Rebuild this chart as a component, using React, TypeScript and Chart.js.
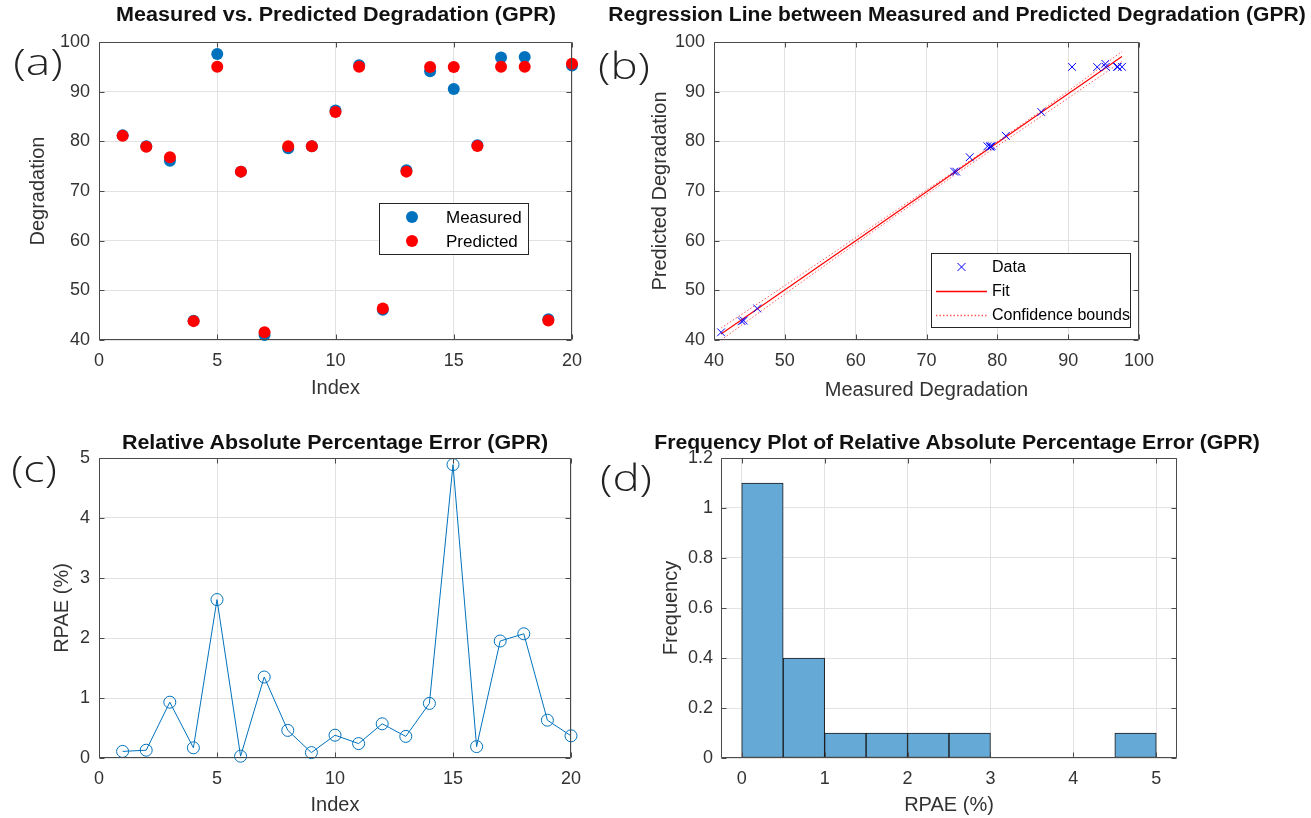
import React, { useEffect, useLayoutEffect, useRef } from "react";
import { Chart, registerables } from "chart.js";

Chart.register(...registerables);

// ---------------- data ----------------
const sampleIndex = [1, 2, 3, 4, 5, 6, 7, 8, 9, 10, 11, 12, 13, 14, 15, 16, 17, 18, 19, 20];
const measuredDegradation = [81.2, 79.0, 76.1, 43.9, 97.6, 73.9, 41.0, 78.6, 79.0, 86.2, 95.3, 46.1, 74.2, 94.1, 90.55, 79.2, 96.9, 97.0, 44.2, 95.25];
const predictedDegradation = [81.1, 78.9, 76.8, 43.8, 95.0, 73.9, 41.55, 79.0, 79.0, 85.9, 95.0, 46.35, 73.9, 94.95, 94.98, 79.05, 95.0, 95.0, 43.92, 95.6];
const rpaePercent = [0.11, 0.13, 0.93, 0.17, 2.64, 0.03, 1.35, 0.46, 0.09, 0.38, 0.24, 0.57, 0.36, 0.91, 4.89, 0.19, 1.95, 2.07, 0.63, 0.37];

const fitX = [41.0, 97.6];
const fitY = [41.2, 97.1];
const boundX = [41, 50, 63, 77, 90, 97.6];
const boundUpper = [42.4, 50.95, 63.5, 76.95, 90.1, 98.1];
const boundLower = [40.0, 49.25, 62.4, 76.15, 88.7, 96.1];

const histBinStart = [0, 0.5, 1, 1.5, 2, 2.5, 3, 3.5, 4, 4.5];
const histBinWidth = 0.5;
const histFrequency = [1.1, 0.4, 0.1, 0.1, 0.1, 0.1, 0, 0, 0, 0.1];

const indexTicks = [0, 5, 10, 15, 20];
const degradationTicks = [40, 50, 60, 70, 80, 90, 100];
const rpaeTicks = [0, 1, 2, 3, 4, 5];
const freqTicks = [0, 0.2, 0.4, 0.6, 0.8, 1, 1.2];

// ---------------- style ----------------
const FONT = "'Liberation Sans', Arial, Helvetica, sans-serif";
const GRID = "#e2e2e2";
const AXIS = "#4a4a4a";
const TEXT = "#333333";
const BLUE = "#0072BD";
const RED = "#FF0000";
const BOUND_RED = "#ff5a5a";

Chart.defaults.font.family = FONT;
Chart.defaults.color = TEXT;

type AxisParams = {
  min: number;
  max: number;
  ticks: number[];
  title: string;
  horizontal: boolean;
  size: number;
  tickPad: number;
  titlePad: number;
};

function linAxis(p: AxisParams) {
  return {
    type: "linear" as const,
    min: p.min,
    max: p.max,
    offset: false,
    afterBuildTicks: (s: any) => {
      s.ticks = p.ticks.map((v) => ({ value: v }));
    },
    afterFit: (s: any) => {
      if (p.horizontal) s.height = p.size;
      else s.width = p.size;
    },
    grid: { color: GRID, lineWidth: 1, drawTicks: false, offset: false },
    border: { display: false },
    ticks: {
      padding: p.tickPad,
      color: TEXT,
      font: { size: 18 },
      autoSkip: false,
      maxRotation: 0,
      minRotation: 0,
      callback: (v: any) => String(Number(Number(v).toFixed(2))),
    },
    title: {
      display: true,
      text: p.title,
      color: TEXT,
      font: { size: 20 },
      padding: p.horizontal ? { top: 0, bottom: p.titlePad } : { top: p.titlePad, bottom: 0 },
    },
  };
}

const axesBox = {
  id: "axesBox",
  afterDraw(chart: any) {
    const { ctx, chartArea: a, scales } = chart;
    ctx.save();
    ctx.strokeStyle = AXIS;
    ctx.lineWidth = 1;
    const L = Math.round(a.left) + 0.5;
    const R = Math.round(a.right) - 0.5;
    const T = Math.round(a.top) + 0.5;
    const B = Math.round(a.bottom) - 0.5;
    ctx.beginPath();
    ctx.rect(L, T, R - L, B - T);
    const tl = 5;
    scales.x.ticks.forEach((t: any) => {
      const p = Math.round(scales.x.getPixelForValue(t.value)) + 0.5;
      ctx.moveTo(p, B);
      ctx.lineTo(p, B - tl);
      ctx.moveTo(p, T);
      ctx.lineTo(p, T + tl);
    });
    scales.y.ticks.forEach((t: any) => {
      const p = Math.round(scales.y.getPixelForValue(t.value)) + 0.5;
      ctx.moveTo(L, p);
      ctx.lineTo(L + tl, p);
      ctx.moveTo(R, p);
      ctx.lineTo(R - tl, p);
    });
    ctx.stroke();
    ctx.restore();
  },
};

type LegendEntry = { kind: "dot" | "cross" | "line" | "dotted"; color: string; label: string };

function boxLegend(
  id: string,
  box: [number, number, number, number],
  rowsY: number[],
  symX: [number, number],
  textX: number,
  fontSize: number,
  entries: LegendEntry[]
) {
  return {
    id,
    afterDraw(chart: any) {
      const ctx = chart.ctx as CanvasRenderingContext2D;
      ctx.save();
      const [x1, y1, x2, y2] = box;
      ctx.fillStyle = "#ffffff";
      ctx.fillRect(x1, y1, x2 - x1, y2 - y1);
      ctx.strokeStyle = "#262626";
      ctx.lineWidth = 1;
      ctx.setLineDash([]);
      ctx.strokeRect(x1 + 0.5, y1 + 0.5, x2 - x1 - 1, y2 - y1 - 1);
      entries.forEach((e, i) => {
        const y = rowsY[i];
        const cx = (symX[0] + symX[1]) / 2;
        if (e.kind === "dot") {
          ctx.fillStyle = e.color;
          ctx.beginPath();
          ctx.arc(cx, y, 6, 0, Math.PI * 2);
          ctx.fill();
        } else if (e.kind === "cross") {
          ctx.setLineDash([]);
          ctx.lineWidth = 1;
          ctx.beginPath();
          ctx.moveTo(cx - 4, y - 4);
          ctx.lineTo(cx + 4, y + 4);
          ctx.moveTo(cx + 4, y - 4);
          ctx.lineTo(cx - 4, y + 4);
          ctx.strokeStyle = e.color;
          ctx.stroke();
        } else {
          ctx.lineWidth = 1.3;
          ctx.setLineDash(e.kind === "dotted" ? [1.5, 2] : []);
          ctx.beginPath();
          ctx.moveTo(symX[0], y + 0.5);
          ctx.lineTo(symX[1], y + 0.5);
          ctx.strokeStyle = e.color;
          ctx.stroke();
          ctx.setLineDash([]);
        }
        ctx.fillStyle = "#000000";
        ctx.font = `${fontSize}px ${FONT}`;
        ctx.textBaseline = "middle";
        ctx.textAlign = "left";
        ctx.fillText(e.label, textX, y + 1);
      });
      ctx.restore();
    },
  };
}

const baseOptions = {
  responsive: false,
  animation: false as const,
  events: [] as any[],
  plugins: { legend: { display: false }, tooltip: { enabled: false }, title: { display: false } },
};

// ---------------- panel configs ----------------
function configA(): any {
  return {
    type: "scatter",
    data: {
      datasets: [
        {
          label: "Predicted",
          data: sampleIndex.map((x, i) => ({ x, y: predictedDegradation[i] })),
          backgroundColor: RED,
          borderWidth: 0,
          pointRadius: 6,
          clip: false,
        },
        {
          label: "Measured",
          data: sampleIndex.map((x, i) => ({ x, y: measuredDegradation[i] })),
          backgroundColor: BLUE,
          borderWidth: 0,
          pointRadius: 6,
          clip: false,
        },
      ],
    },
    options: {
      ...baseOptions,
      layout: { padding: { left: 0, top: 42, right: 28, bottom: 0 } },
      scales: {
        x: linAxis({ min: 0, max: 20, ticks: indexTicks, title: "Index", horizontal: true, size: 70, tickPad: 10, titlePad: 10 }),
        y: linAxis({ min: 40, max: 100, ticks: degradationTicks, title: "Degradation", horizontal: false, size: 99, tickPad: 9, titlePad: 26 }),
      },
    },
    plugins: [
      axesBox,
      boxLegend("legA", [379, 203, 529, 255], [217, 241], [412, 412], 446, 17, [
        { kind: "dot", color: BLUE, label: "Measured" },
        { kind: "dot", color: RED, label: "Predicted" },
      ]),
    ],
  };
}

function configB(): any {
  return {
    type: "scatter",
    data: {
      datasets: [
        {
          label: "Data",
          data: measuredDegradation.map((x, i) => ({ x, y: predictedDegradation[i] })),
          pointStyle: "crossRot",
          pointRadius: 5.5,
          borderColor: "#0000FF",
          backgroundColor: "#0000FF",
          borderWidth: 1,
          clip: false,
        },
        {
          label: "Fit",
          data: fitX.map((x, i) => ({ x, y: fitY[i] })),
          showLine: true,
          pointRadius: 0,
          borderColor: RED,
          borderWidth: 1.2,
          clip: false,
        },
        {
          label: "Upper bound",
          data: boundX.map((x, i) => ({ x, y: boundUpper[i] })),
          showLine: true,
          pointRadius: 0,
          borderColor: BOUND_RED,
          borderWidth: 1,
          borderDash: [1.5, 2],
          cubicInterpolationMode: "monotone",
          clip: false,
        },
        {
          label: "Lower bound",
          data: boundX.map((x, i) => ({ x, y: boundLower[i] })),
          showLine: true,
          pointRadius: 0,
          borderColor: BOUND_RED,
          borderWidth: 1,
          borderDash: [1.5, 2],
          cubicInterpolationMode: "monotone",
          clip: false,
        },
      ],
    },
    options: {
      ...baseOptions,
      layout: { padding: { left: 0, top: 42, right: 172, bottom: 0 } },
      scales: {
        x: linAxis({ min: 40, max: 100, ticks: degradationTicks, title: "Measured Degradation", horizontal: true, size: 70, tickPad: 10, titlePad: 8 }),
        y: linAxis({ min: 40, max: 100, ticks: degradationTicks, title: "Predicted Degradation", horizontal: false, size: 114, tickPad: 9, titlePad: 48 }),
      },
    },
    plugins: [
      axesBox,
      boxLegend("legB", [331, 253, 531, 328], [267, 291, 315], [336, 387], 392, 16, [
        { kind: "cross", color: "#0000FF", label: "Data" },
        { kind: "line", color: RED, label: "Fit" },
        { kind: "dotted", color: BOUND_RED, label: "Confidence bounds" },
      ]),
    ],
  };
}

function configC(): any {
  return {
    type: "scatter",
    data: {
      datasets: [
        {
          label: "RPAE",
          data: sampleIndex.map((x, i) => ({ x, y: rpaePercent[i] })),
          showLine: true,
          borderColor: BLUE,
          borderWidth: 1,
          pointRadius: 6,
          pointBorderColor: BLUE,
          pointBackgroundColor: "rgba(0,0,0,0)",
          pointBorderWidth: 1,
          clip: false,
        },
      ],
    },
    options: {
      ...baseOptions,
      layout: { padding: { left: 0, top: 48, right: 29, bottom: 0 } },
      scales: {
        x: linAxis({ min: 0, max: 20, ticks: indexTicks, title: "Index", horizontal: true, size: 60, tickPad: 10, titlePad: 1 }),
        y: linAxis({ min: 0, max: 5, ticks: rpaeTicks, title: "RPAE (%)", horizontal: false, size: 99, tickPad: 9, titlePad: 50 }),
      },
    },
    plugins: [axesBox],
  };
}

function configD(): any {
  return {
    type: "bar",
    data: {
      datasets: [
        {
          label: "Frequency",
          data: histBinStart.map((s, i) => ({ x: s + histBinWidth / 2, y: histFrequency[i] })),
          backgroundColor: "#65a9d7",
          borderColor: "#1a1a1a",
          borderWidth: (c: any) => (c.raw && c.raw.y > 0 ? 1 : 0),
          borderSkipped: false,
          barPercentage: 1,
          categoryPercentage: 1,
        },
      ],
    },
    options: {
      ...baseOptions,
      layout: { padding: { left: 0, top: 48, right: 134, bottom: 0 } },
      scales: {
        x: linAxis({ min: -0.25, max: 5.25, ticks: rpaeTicks, title: "RPAE (%)", horizontal: true, size: 60, tickPad: 10, titlePad: 1 }),
        y: linAxis({ min: 0, max: 1.2, ticks: freqTicks, title: "Frequency", horizontal: false, size: 121, tickPad: 8, titlePad: 59 }),
      },
    },
    plugins: [axesBox],
  };
}

// ---------------- components ----------------
function Panel(props: { left: number; top: number; width: number; height: number; make: () => any }) {
  const ref = useRef<HTMLCanvasElement>(null);
  useEffect(() => {
    const chart = new Chart(ref.current as HTMLCanvasElement, props.make());
    return () => chart.destroy();
  }, []);
  return (
    <canvas
      ref={ref}
      width={props.width}
      height={props.height}
      style={{ position: "absolute", left: props.left, top: props.top, width: props.width, height: props.height }}
    />
  );
}

function FitText(props: { text: string; cx: number; cy: number; width: number; style: React.CSSProperties }) {
  const ref = useRef<HTMLSpanElement>(null);
  useLayoutEffect(() => {
    const el = ref.current;
    if (!el) return;
    const w = el.offsetWidth;
    if (w > 0) el.style.transform = `translate(-50%, -50%) scaleX(${props.width / w})`;
  }, [props.text, props.width]);
  return (
    <span
      ref={ref}
      style={{
        position: "absolute",
        left: props.cx,
        top: props.cy,
        whiteSpace: "nowrap",
        lineHeight: 1,
        transform: "translate(-50%, -50%)",
        ...props.style,
      }}
    >
      {props.text}
    </span>
  );
}

const titleStyle: React.CSSProperties = { fontFamily: FONT, fontWeight: 700, fontSize: 20, color: "#111" };
const tagStyle: React.CSSProperties = { fontFamily: "'Open Sans', 'DejaVu Sans', sans-serif", fontWeight: 300, fontSize: 36, color: "#222" };

export default function App() {
  return (
    <div style={{ position: "absolute", left: 0, top: 0, width: 1311, height: 818, background: "#ffffff", overflow: "hidden" }}>
      <Panel left={0} top={0} width={600} height={410} make={configA} />
      <Panel left={600} top={0} width={711} height={410} make={configB} />
      <Panel left={0} top={410} width={600} height={408} make={configC} />
      <Panel left={600} top={410} width={711} height={408} make={configD} />

      <FitText text="Measured vs. Predicted Degradation (GPR)" cx={336} cy={14} width={440} style={titleStyle} />
      <FitText text="Regression Line between Measured and Predicted Degradation (GPR)" cx={957} cy={14} width={697} style={titleStyle} />
      <FitText text="Relative Absolute Percentage Error (GPR)" cx={335} cy={442} width={426} style={titleStyle} />
      <FitText text="Frequency Plot of Relative Absolute Percentage Error (GPR)" cx={957} cy={442} width={606} style={titleStyle} />

      <FitText text="(a)" cx={38} cy={62} width={50} style={tagStyle} />
      <FitText text="(b)" cx={624} cy={66} width={52} style={tagStyle} />
      <FitText text="(c)" cx={34} cy={469} width={46} style={tagStyle} />
      <FitText text="(d)" cx={626} cy={478} width={52} style={tagStyle} />
    </div>
  );
}
